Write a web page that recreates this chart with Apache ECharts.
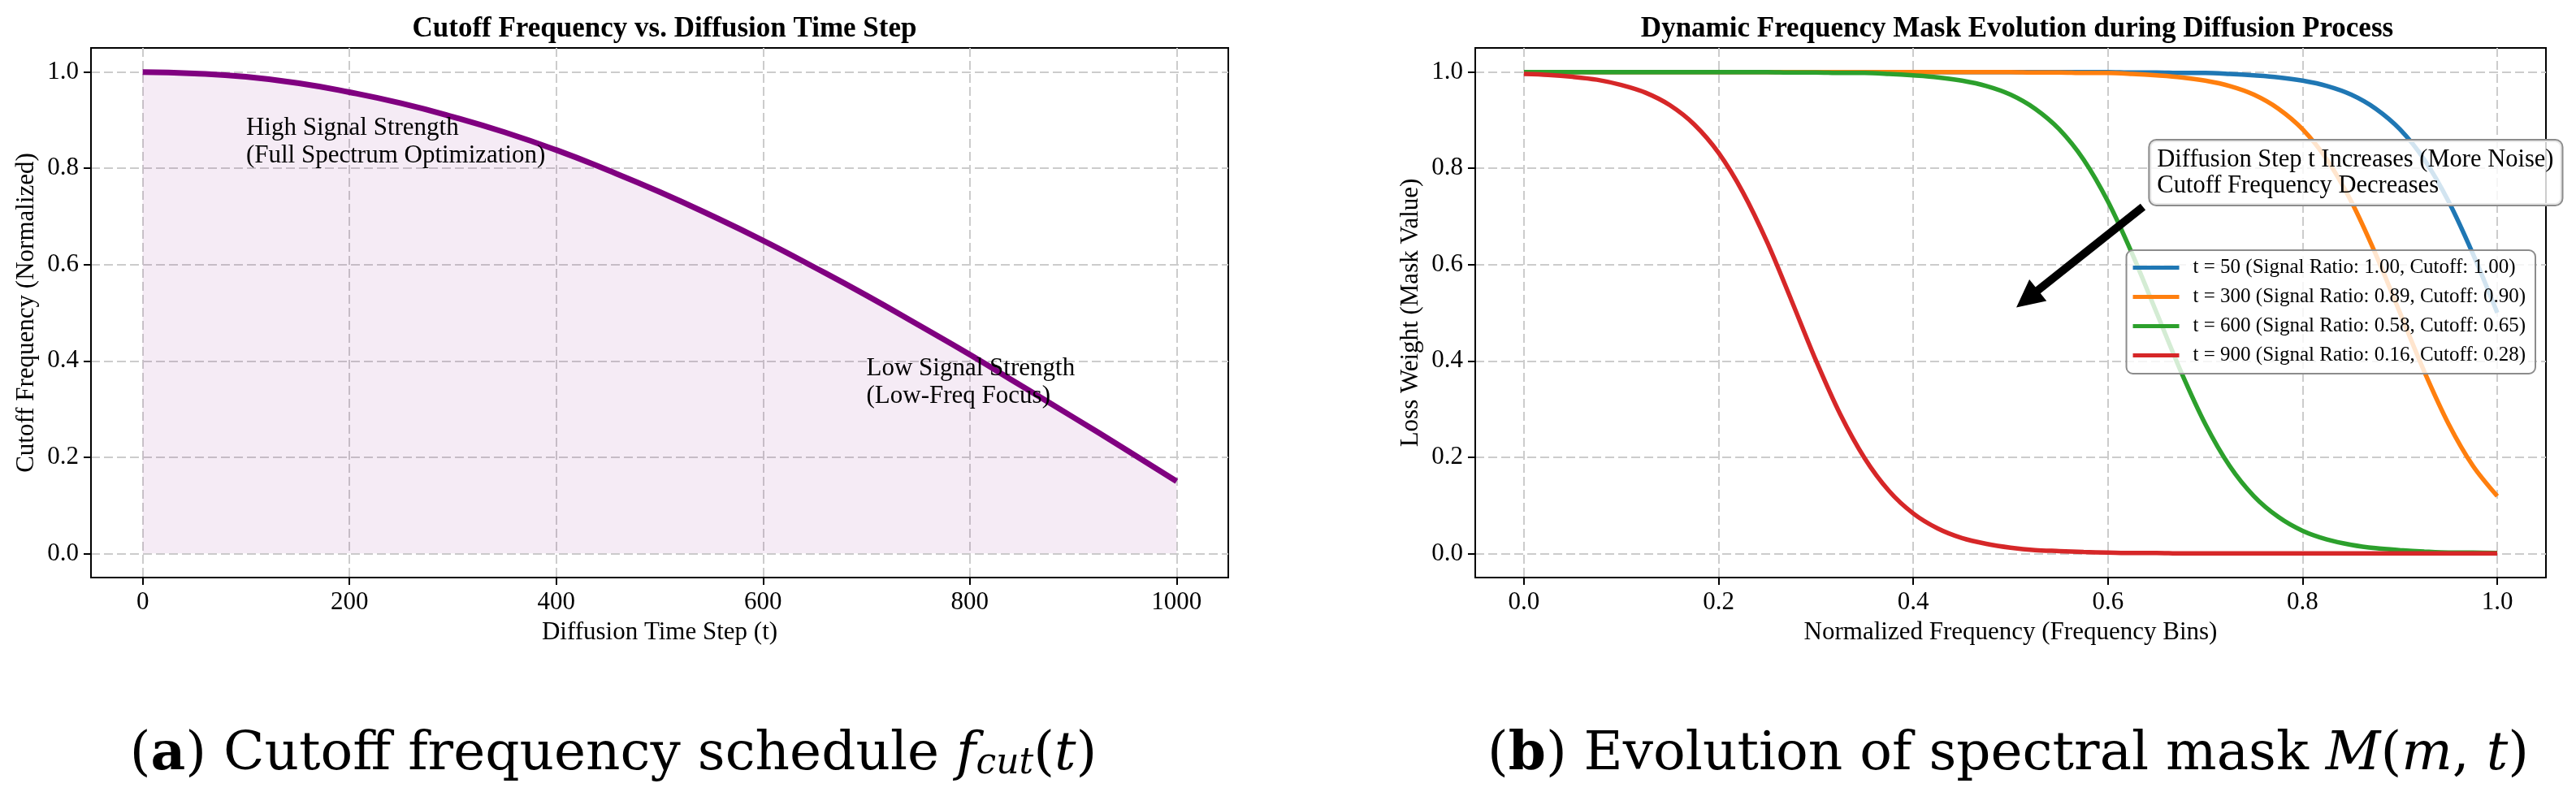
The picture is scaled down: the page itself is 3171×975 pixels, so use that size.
<!DOCTYPE html>
<html>
<head>
<meta charset="utf-8">
<title>Cutoff frequency schedule / spectral mask</title>
<script src="https://cdn.jsdelivr.net/npm/echarts@6.0.0/dist/echarts.min.js"></script>
<style>
html, body { margin: 0; padding: 0; background: #fff; }
#main { width: 3171px; height: 975px; }
</style>
</head>
<body>
<div id="main"></div>
<script>
// (a) cutoff schedule
var timeSteps = [0, 50, 100, 150, 200, 250, 300, 350, 400, 450, 500,
                 550, 600, 650, 700, 750, 800, 850, 900, 950, 1000];
var cutoff = [1.000, 0.997, 0.990, 0.977, 0.958, 0.935, 0.907, 0.875, 0.838, 0.796, 0.751,
              0.702, 0.650, 0.594, 0.536, 0.475, 0.413, 0.348, 0.283, 0.217, 0.150];
var timeTicks = [0, 200, 400, 600, 800, 1000];

// (b) mask curves
var freqBins = [0, 0.025, 0.05, 0.075, 0.1, 0.125, 0.15, 0.175, 0.2, 0.225,
                0.25, 0.275, 0.3, 0.325, 0.35, 0.375, 0.4, 0.425, 0.45, 0.475,
                0.5, 0.525, 0.55, 0.575, 0.6, 0.625, 0.65, 0.675, 0.7, 0.725,
                0.75, 0.775, 0.8, 0.825, 0.85, 0.875, 0.9, 0.925, 0.95, 0.975, 1.0];
var maskT50 = [1.000, 1.000, 1.000, 1.000, 1.000, 1.000, 1.000, 1.000, 1.000, 1.000,
               1.000, 1.000, 1.000, 1.000, 1.000, 1.000, 1.000, 1.000, 1.000, 1.000,
               1.000, 1.000, 1.000, 1.000, 1.000, 0.999, 0.999, 0.998, 0.998, 0.996,
               0.993, 0.989, 0.982, 0.971, 0.953, 0.924, 0.881, 0.818, 0.731, 0.622, 0.500];
var maskT300 = [1.000, 1.000, 1.000, 1.000, 1.000, 1.000, 1.000, 1.000, 1.000, 1.000,
                1.000, 1.000, 1.000, 1.000, 1.000, 1.000, 1.000, 1.000, 1.000, 1.000,
                1.000, 0.999, 0.999, 0.998, 0.998, 0.996, 0.993, 0.989, 0.982, 0.971,
                0.953, 0.924, 0.881, 0.818, 0.731, 0.622, 0.500, 0.378, 0.269, 0.182, 0.119];
var maskT600 = [1.000, 1.000, 1.000, 1.000, 1.000, 1.000, 1.000, 1.000, 1.000, 1.000,
                1.000, 0.999, 0.999, 0.998, 0.998, 0.996, 0.993, 0.989, 0.982, 0.971,
                0.953, 0.924, 0.881, 0.818, 0.731, 0.622, 0.500, 0.378, 0.269, 0.182,
                0.119, 0.076, 0.047, 0.029, 0.018, 0.011, 0.007, 0.004, 0.002, 0.002, 0.001];
var maskT900 = [0.996, 0.994, 0.990, 0.984, 0.973, 0.957, 0.931, 0.891, 0.832, 0.750,
                0.646, 0.525, 0.401, 0.289, 0.198, 0.130, 0.083, 0.052, 0.032, 0.020,
                0.012, 0.007, 0.005, 0.003, 0.002, 0.001, 0.001, 0.000, 0.000, 0.000,
                0.000, 0.000, 0.000, 0.000, 0.000, 0.000, 0.000, 0.000, 0.000, 0.000, 0.000];
var maskNames = ['t = 50 (Signal Ratio: 1.00, Cutoff: 1.00)',
                 't = 300 (Signal Ratio: 0.89, Cutoff: 0.90)',
                 't = 600 (Signal Ratio: 0.58, Cutoff: 0.65)',
                 't = 900 (Signal Ratio: 0.16, Cutoff: 0.28)'];
var unitTicks = [0, 0.2, 0.4, 0.6, 0.8, 1.0];

// arrow from the note box down to (0.5, 0.5)
var arrowFrom = [0.636, 0.72];
var arrowTo = [0.517, 0.529];

var font = 'Liberation Serif';
var capFont = 'DejaVu Serif';

function pairs(xs, ys) {
    return xs.map(function (x, i) { return [x, ys[i]]; });
}

// matplotlib-ish axis: black spine, outward ticks, dashed grid
function axis(idx, min, max, ticks, digits, name, gap) {
    return {
        type: 'value',
        gridIndex: idx,
        min: min,
        max: max,
        name: name,
        nameLocation: 'middle',
        nameGap: gap,
        nameTextStyle: { fontFamily: font, fontSize: 31, color: '#000' },
        axisLine: { onZero: false, lineStyle: { color: '#000', width: 2 } },
        axisTick: { customValues: ticks, length: 9, lineStyle: { color: '#000', width: 2 } },
        axisLabel: {
            customValues: ticks,
            fontFamily: font,
            fontSize: 31,
            color: '#000',
            margin: 15,
            formatter: function (v) { return v.toFixed(digits); }
        },
        splitLine: { show: true, lineStyle: { color: '#cccccc', width: 2, type: [11, 5] } }
    };
}

var capRich = {
    n: { fontFamily: capFont, fontSize: 66, fontWeight: 'normal', lineHeight: 80, verticalAlign: 'bottom', color: '#000' },
    bb: { fontFamily: capFont, fontSize: 66, fontWeight: 'bold', lineHeight: 80, verticalAlign: 'bottom', color: '#000' },
    i: { fontFamily: capFont, fontSize: 66, fontWeight: 'normal', fontStyle: 'italic', lineHeight: 80, verticalAlign: 'bottom', color: '#000' },
    sub: { fontFamily: capFont, fontSize: 44, fontWeight: 'normal', fontStyle: 'italic', lineHeight: 52, verticalAlign: 'bottom', color: '#000' }
};

var myChart = echarts.init(document.getElementById('main'));

var option = {
    animation: false,
    backgroundColor: '#fff',
    title: [
        {
            text: 'Cutoff Frequency vs. Diffusion Time Step',
            left: 813, top: 13, textAlign: 'center',
            textStyle: { fontFamily: font, fontWeight: 'bold', fontSize: 35, color: '#000' }
        },
        {
            text: 'Dynamic Frequency Mask Evolution during Diffusion Process',
            left: 2478, top: 13, textAlign: 'center',
            textStyle: { fontFamily: font, fontWeight: 'bold', fontSize: 35, color: '#000' }
        },
        {
            text: '{n|(}{bb|a}{n|) Cutoff frequency schedule }{i|f}{sub|cut}{n|(}{i|t}{n|)}',
            left: 750, top: 878, textAlign: 'center',
            textStyle: { fontWeight: 'normal', rich: capRich }
        },
        {
            text: '{n|(}{bb|b}{n|) Evolution of spectral mask }{i|M}{n|(}{i|m}{n|, }{i|t}{n|)}',
            left: 2467, top: 878, textAlign: 'center',
            textStyle: { fontWeight: 'normal', rich: capRich }
        }
    ],
    legend: {
        data: maskNames,
        orient: 'vertical',
        right: 50,
        top: 308,
        icon: 'rect',
        itemWidth: 57,
        itemHeight: 5,
        itemGap: 9,
        backgroundColor: 'rgba(255,255,255,0.8)',
        borderColor: '#8c8c8c',
        borderWidth: 2,
        borderRadius: 8,
        padding: [8, 12, 9, 8],
        selectedMode: false,
        textStyle: { fontFamily: font, fontSize: 25, lineHeight: 27, color: '#000', padding: [0, 0, 0, 12] }
    },
    grid: [
        { left: 112, right: 1659, top: 59, bottom: 264, show: true, borderColor: '#000', borderWidth: 2 },
        { left: 1816, right: 37, top: 59, bottom: 264, show: true, borderColor: '#000', borderWidth: 2 }
    ],
    xAxis: [
        axis(0, -50, 1050, timeTicks, 0, 'Diffusion Time Step (t)', 52),
        axis(1, -0.05, 1.05, unitTicks, 1, 'Normalized Frequency (Frequency Bins)', 52)
    ],
    yAxis: [
        axis(0, -0.05, 1.05, unitTicks, 1, 'Cutoff Frequency (Normalized)', 64),
        axis(1, -0.05, 1.05, unitTicks, 1, 'Loss Weight (Mask Value)', 64)
    ],
    series: [
        {
            type: 'line',
            xAxisIndex: 0,
            yAxisIndex: 0,
            data: pairs(timeSteps, cutoff),
            smooth: true,
            showSymbol: false,
            lineStyle: { color: '#800080', width: 7 },
            itemStyle: { color: '#800080' },
            areaStyle: { color: 'rgba(128,0,128,0.11)' },
            markPoint: {
                silent: true,
                symbol: 'circle',
                symbolSize: 0,
                itemStyle: { color: 'transparent' },
                label: {
                    show: true, position: 'right', distance: 0, formatter: '{b}',
                    fontFamily: font, fontSize: 31, lineHeight: 34, color: '#000'
                },
                data: [
                    { name: 'High Signal Strength\n(Full Spectrum Optimization)', coord: [100, 0.855] },
                    { name: 'Low Signal Strength\n(Low-Freq Focus)', coord: [700, 0.355] }
                ]
            }
        },
        {
            name: maskNames[0], type: 'line', xAxisIndex: 1, yAxisIndex: 1,
            data: pairs(freqBins, maskT50), smooth: 0.3, showSymbol: false,
            lineStyle: { color: '#1f77b4', width: 5.5 }, itemStyle: { color: '#1f77b4' }
        },
        {
            name: maskNames[1], type: 'line', xAxisIndex: 1, yAxisIndex: 1,
            data: pairs(freqBins, maskT300), smooth: 0.3, showSymbol: false,
            lineStyle: { color: '#ff7f0e', width: 5.5 }, itemStyle: { color: '#ff7f0e' }
        },
        {
            name: maskNames[2], type: 'line', xAxisIndex: 1, yAxisIndex: 1,
            data: pairs(freqBins, maskT600), smooth: 0.3, showSymbol: false,
            lineStyle: { color: '#2ca02c', width: 5.5 }, itemStyle: { color: '#2ca02c' }
        },
        {
            name: maskNames[3], type: 'line', xAxisIndex: 1, yAxisIndex: 1,
            data: pairs(freqBins, maskT900), smooth: 0.3, showSymbol: false,
            lineStyle: { color: '#d62728', width: 5.5 }, itemStyle: { color: '#d62728' },
            markLine: {
                silent: true,
                symbol: ['none', 'triangle'],
                symbolSize: 34,
                label: { show: false },
                lineStyle: { color: '#000', width: 10, type: 'solid' },
                data: [[{ coord: arrowFrom }, { coord: arrowTo }]]
            },
            markPoint: {
                silent: true,
                symbol: 'circle',
                symbolSize: 0,
                itemStyle: { color: 'transparent' },
                label: {
                    show: true, position: 'right', distance: 0, formatter: '{b}',
                    fontFamily: font, fontSize: 30.5, lineHeight: 32, color: '#000',
                    backgroundColor: 'rgba(255,255,255,0.8)',
                    borderColor: '#8c8c8c', borderWidth: 2, borderRadius: 8,
                    padding: [6, 10, 9, 9]
                },
                data: [
                    { name: 'Diffusion Step t Increases (More Noise)\nCutoff Frequency Decreases', coord: [0.643, 0.791] }
                ]
            }
        }
    ]
};

myChart.setOption(option);
</script>
</body>
</html>
